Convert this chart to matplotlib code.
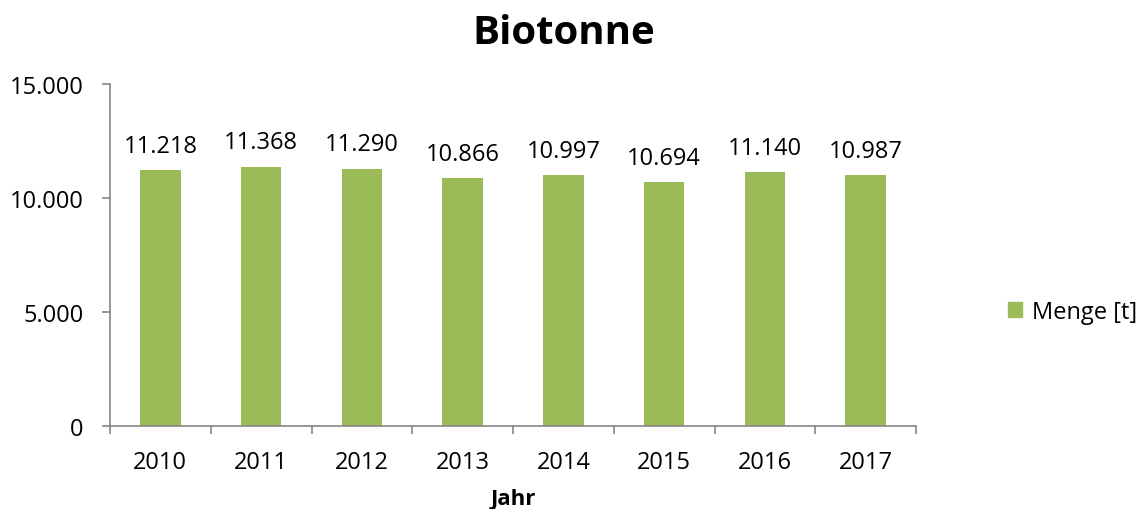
import matplotlib
matplotlib.use("Agg")
import matplotlib.pyplot as plt
from matplotlib.ticker import FuncFormatter
from matplotlib.patches import Patch

years = ["2010", "2011", "2012", "2013", "2014", "2015", "2016", "2017"]
menge = [11218, 11368, 11290, 10866, 10997, 10694, 11140, 10987]
series_name = "Menge [t]"
title = "Biotonne"
xlabel = "Jahr"

plt.rcParams['font.family'] = ['Open Sans', 'DejaVu Sans']

fig = plt.figure(figsize=(11.44, 5.10), dpi=100)
ax = fig.add_axes([110/1144, 1 - 427/510, 806/1144, 342/510])

bar_color = "#9BBB59"
axis_color = "#868686"
fs = 17

x = list(range(len(years)))
bars = ax.bar(x, menge, width=0.4, color=bar_color, zorder=2)

def de_fmt(v, pos=None):
    v = int(round(v))
    return f"{v:,}".replace(",", ".")

for xi, v in zip(x, menge):
    ax.annotate(de_fmt(v), (xi, v), xytext=(0, 9), textcoords="offset points",
                ha="center", va="bottom", fontsize=fs, color="#000000")

ax.set_xlim(-0.5, len(years) - 0.5)
ax.set_ylim(0, 15000)
ax.set_yticks([0, 5000, 10000, 15000])
ax.yaxis.set_major_formatter(FuncFormatter(de_fmt))

ax.set_xticks(x)
ax.set_xticklabels(years)
ax.set_xticks([i - 0.5 for i in range(len(years) + 1)], minor=True)
ax.tick_params(axis="x", which="major", length=0, labelsize=fs, pad=17)
ax.tick_params(axis="x", which="minor", length=6, color=axis_color, width=1.2)
ax.tick_params(axis="y", which="major", length=6, color=axis_color, width=1.2, labelsize=fs, pad=13)

for s in ["top", "right"]:
    ax.spines[s].set_visible(False)
for s in ["left", "bottom"]:
    ax.spines[s].set_color(axis_color)
    ax.spines[s].set_linewidth(1.2)

fig.text(564/1144, 1 - 33/510, title, ha="center", va="center", fontsize=29, fontweight="bold")
fig.text(513/1144, 1 - 500/510, xlabel, ha="center", va="center", fontsize=16, fontweight="bold")

handle = Patch(color=bar_color)
fig.legend([handle], [series_name], loc="center left", bbox_to_anchor=(1008/1144, 1 - 313/510),
           frameon=False, fontsize=fs, handlelength=0.6, handleheight=0.6, handletextpad=0.4,
           borderaxespad=0, borderpad=0)

fig.savefig("out.png", dpi=100)
